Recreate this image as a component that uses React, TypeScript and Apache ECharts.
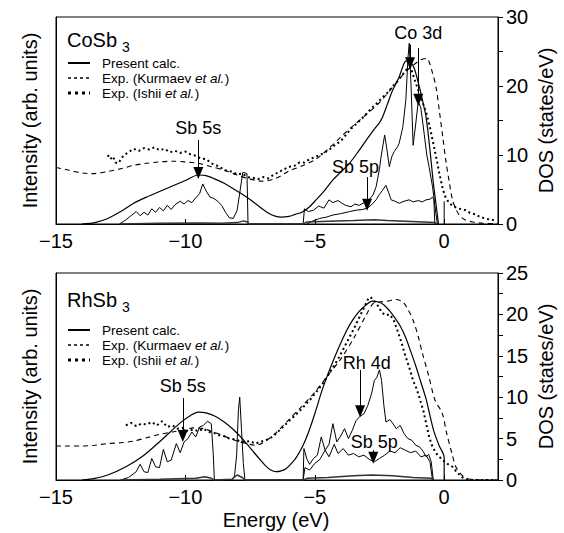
import React, { useEffect, useRef } from "react";
import * as echarts from "echarts";

const FONT = "'Liberation Sans', Arial, Helvetica, sans-serif";

// ---------- shared axes ----------
const energyTicks = [-15, -10, -5, 0];
const energyTitle = "Energy (eV)";

// ---------- CoSb3 (top panel) ----------
const coBroad = [[-14.0,0],[-13.5,0.2],[-13.0,0.8],[-12.5,1.8],[-12.0,3.0],[-11.5,3.9],[-11.0,4.7],[-10.5,5.5],[-10.0,6.3],[-9.5,7.1],[-9.2,7.0],[-8.85,6.5],[-8.5,5.9],[-8.15,5.1],[-7.8,4.3],[-7.45,3.4],[-7.1,2.4],[-6.8,1.6],[-6.5,1.1],[-6.3,1.0],[-6.0,1.1],[-5.75,1.4],[-5.5,1.7],[-5.2,2.5],[-5.0,3.3],[-4.7,4.5],[-4.3,6.4],[-4.0,7.5],[-3.66,8.8],[-3.3,10.6],[-3.0,12.2],[-2.75,13.5],[-2.5,14.7],[-2.38,15.5],[-2.2,17.3],[-2.0,19.3],[-1.74,21.3],[-1.6,22.8],[-1.48,23.6],[-1.3,23.4],[-1.16,22.6],[-0.96,19.9],[-0.83,17.8],[-0.7,15.5],[-0.6,12.5],[-0.51,9.3],[-0.42,6.0],[-0.32,3.0],[-0.22,0]];
const coTotal = [[-12.55,0],[-12.3,0.6],[-12.1,1.2],[-11.9,1.8],[-11.75,1.2],[-11.6,1.7],[-11.45,1.3],[-11.3,2.2],[-11.15,1.7],[-11.0,2.4],[-10.85,1.9],[-10.7,2.7],[-10.55,2.1],[-10.4,2.8],[-10.2,3.3],[-10.05,2.9],[-9.9,3.4],[-9.75,3.1],[-9.6,3.8],[-9.45,4.4],[-9.33,5.8],[-9.2,4.8],[-9.05,3.9],[-8.9,3.7],[-8.75,3.3],[-8.6,2.7],[-8.45,1.7],[-8.3,0.9],[-8.15,0.8],[-8.0,2.0],[-7.88,5.0],[-7.78,7.5],[-7.62,7.3],[-7.58,0],[-5.45,0],[-5.4,2.2],[-5.25,1.8],[-5.05,2.0],[-4.85,2.6],[-4.65,2.3],[-4.45,3.5],[-4.3,3.1],[-4.1,3.4],[-3.95,3.0],[-3.8,2.7],[-3.6,2.5],[-3.45,2.9],[-3.28,2.7],[-3.1,3.1],[-2.89,3.6],[-2.75,4.2],[-2.63,5.4],[-2.5,8.0],[-2.44,9.7],[-2.3,12.9],[-2.22,11.0],[-2.12,8.3],[-2.02,9.8],[-1.93,10.5],[-1.8,11.2],[-1.74,11.7],[-1.6,14.0],[-1.48,18.0],[-1.4,24.0],[-1.35,26.2],[-1.28,20.0],[-1.2,11.4],[-1.1,14.5],[-1.0,17.8],[-0.9,16.8],[-0.77,13.0],[-0.67,10.0],[-0.58,8.2],[-0.45,5.4],[-0.32,1.5],[-0.26,0]];
const coSb5p = [[-5.3,0],[-5.1,0.4],[-4.82,0.8],[-4.55,1.0],[-4.3,1.3],[-4.0,1.5],[-3.66,1.8],[-3.4,2.0],[-3.15,2.1],[-2.98,2.3],[-2.8,2.8],[-2.63,3.5],[-2.5,4.3],[-2.38,4.9],[-2.25,5.6],[-2.15,4.6],[-2.05,3.5],[-1.9,3.3],[-1.74,3.0],[-1.55,3.3],[-1.35,3.5],[-1.2,3.2],[-1.0,3.4],[-0.85,3.2],[-0.7,3.5],[-0.55,3.6],[-0.45,3.9],[-0.4,3.6],[-0.36,0]];
const coPartial = [[-12.5,0],[-11.0,0.1],[-9.5,0.15],[-8.6,0.1],[-8.0,0.2],[-7.75,0.45],[-7.6,0.3],[-7.55,0],[-5.45,0],[-5.3,0.3],[-4.5,0.4],[-3.5,0.5],[-2.7,0.6],[-2.2,0.5],[-1.5,0.4],[-0.8,0.3],[-0.35,0.2],[-0.3,0]];
const coFermi = [[0,0],[0,3.3]];
const coKurmaev = [[-15.0,8.2],[-14.5,7.8],[-14.0,7.4],[-13.6,7.3],[-13.0,7.6],[-12.5,8.0],[-12.0,8.5],[-11.5,8.8],[-11.0,9.0],[-10.5,9.1],[-10.0,9.0],[-9.5,8.8],[-9.0,8.3],[-8.5,7.8],[-8.0,7.1],[-7.5,6.5],[-7.0,6.2],[-6.6,6.5],[-6.3,7.0],[-6.0,7.7],[-5.5,8.4],[-5.0,9.3],[-4.5,10.8],[-4.0,12.6],[-3.5,14.3],[-3.0,15.9],[-2.5,17.6],[-2.0,19.8],[-1.5,22.0],[-1.2,23.0],[-0.9,23.8],[-0.68,24.0],[-0.45,21.9],[-0.3,19.5],[-0.19,16.5],[-0.05,12.5],[0.06,9.3],[0.2,6.0],[0.32,3.5],[0.45,2.2],[0.58,1.3],[0.8,0.6],[1.1,0.3],[1.5,0.1],[2.08,0.05]];
const coIshii = [[-13.0,10.0],[-12.9,9.4],[-12.8,9.8],[-12.7,8.9],[-12.6,8.8],[-12.5,9.3],[-12.4,9.9],[-12.2,10.4],[-12.0,10.9],[-11.8,10.6],[-11.6,11.0],[-11.4,10.8],[-11.2,11.1],[-11.0,10.7],[-10.8,10.9],[-10.6,10.4],[-10.4,10.6],[-10.2,10.3],[-10.0,10.5],[-9.8,10.1],[-9.6,9.9],[-9.4,9.5],[-9.2,9.4],[-9.0,8.8],[-8.8,8.5],[-8.6,8.1],[-8.4,7.7],[-8.2,7.6],[-8.0,7.2],[-7.8,7.3],[-7.6,6.8],[-7.4,6.7],[-7.2,6.5],[-7.0,6.8],[-6.8,6.6],[-6.6,7.1],[-6.4,7.5],[-6.2,7.9],[-6.0,8.3],[-5.8,8.4],[-5.6,8.9],[-5.4,8.9],[-5.2,9.4],[-5.0,9.7],[-4.8,10.0],[-4.6,10.4],[-4.4,10.9],[-4.2,11.5],[-4.0,12.0],[-3.8,12.9],[-3.6,13.8],[-3.4,14.5],[-3.2,15.2],[-3.0,16.0],[-2.8,16.8],[-2.6,17.5],[-2.4,18.3],[-2.2,19.0],[-2.0,19.9],[-1.8,20.7],[-1.6,21.7],[-1.45,22.4],[-1.3,22.8],[-1.15,21.0],[-1.0,19.4],[-0.85,17.8],[-0.7,16.2],[-0.55,14.0],[-0.45,12.2],[-0.3,9.5],[-0.19,7.4],[-0.05,5.0],[0.06,3.8],[0.2,3.0],[0.35,2.6],[0.45,2.4],[0.6,2.2],[0.83,2.0],[1.0,1.6],[1.2,1.4],[1.35,1.1],[1.5,0.9],[1.7,0.7],[1.86,0.6],[2.0,0.5]];
// arrows: [energy, from, to]
const coArrows = [[-9.5,12.2,7.4],[-2.98,6.8,2.8],[-1.32,26.0,23.3],[-1.0,25.5,18.0]];
const coLabels = [["Sb 5s",-9.5,13.9],["Sb 5p",-3.43,8.3],["Co 3d",-1.0,27.7]];

// ---------- RhSb3 (bottom panel) ----------
const rhBroad = [[-14.0,0],[-13.5,0.2],[-13.0,0.6],[-12.3,1.6],[-11.6,3.0],[-10.9,4.9],[-10.2,6.9],[-9.8,7.8],[-9.5,8.2],[-9.2,8.1],[-8.85,7.7],[-8.5,7.0],[-8.15,6.1],[-7.8,5.0],[-7.45,3.7],[-7.1,2.4],[-6.9,1.7],[-6.7,1.2],[-6.5,1.0],[-6.3,1.1],[-6.1,1.4],[-5.9,2.0],[-5.7,2.8],[-5.45,4.2],[-5.25,5.7],[-5.0,8.0],[-4.7,11.0],[-4.3,14.3],[-3.9,17.2],[-3.6,19.0],[-3.3,20.3],[-3.0,21.2],[-2.77,21.6],[-2.55,21.5],[-2.35,21.2],[-2.1,20.4],[-1.93,19.7],[-1.7,18.6],[-1.5,17.3],[-1.3,15.6],[-1.1,13.8],[-0.9,11.8],[-0.7,9.8],[-0.55,7.8],[-0.4,5.9],[-0.2,4.2],[0.0,2.7],[0.0,0]];
const rhTotal = [[-12.5,0],[-12.2,0.3],[-11.9,1.0],[-11.75,1.9],[-11.6,1.0],[-11.45,0.9],[-11.3,2.6],[-11.15,1.6],[-11.0,1.5],[-10.85,3.7],[-10.7,2.2],[-10.55,2.4],[-10.35,4.4],[-10.2,3.3],[-10.05,4.6],[-9.9,5.0],[-9.75,5.8],[-9.6,5.2],[-9.45,6.4],[-9.3,6.6],[-9.15,7.1],[-9.0,6.8],[-8.92,3.0],[-8.88,0],[-8.2,0],[-8.1,0.5],[-8.02,3.0],[-7.95,8.5],[-7.9,10.0],[-7.83,6.0],[-7.76,2.0],[-7.7,0],[-5.45,0],[-5.42,3.8],[-5.3,2.5],[-5.2,1.9],[-5.05,2.6],[-4.9,3.0],[-4.75,5.2],[-4.6,3.6],[-4.45,4.3],[-4.3,6.8],[-4.15,4.6],[-4.0,5.3],[-3.85,6.2],[-3.7,5.0],[-3.55,6.0],[-3.4,7.2],[-3.25,7.7],[-3.1,8.0],[-2.95,9.0],[-2.8,10.5],[-2.7,12.0],[-2.6,12.4],[-2.5,13.3],[-2.42,12.0],[-2.33,9.0],[-2.25,7.0],[-2.1,7.3],[-2.0,6.9],[-1.85,6.2],[-1.7,6.6],[-1.55,5.6],[-1.4,5.0],[-1.25,4.8],[-1.1,4.2],[-0.95,4.0],[-0.8,3.4],[-0.7,2.8],[-0.6,3.1],[-0.5,2.2],[-0.42,0]];
const rhSb5p = [[-5.45,0],[-5.38,1.5],[-5.2,1.2],[-5.0,2.0],[-4.8,2.5],[-4.6,3.6],[-4.45,2.8],[-4.25,4.3],[-4.1,3.2],[-3.9,3.8],[-3.7,3.0],[-3.5,3.2],[-3.3,2.8],[-3.1,3.0],[-2.9,2.5],[-2.7,2.2],[-2.5,2.6],[-2.3,3.0],[-2.1,3.5],[-1.9,3.3],[-1.7,3.9],[-1.5,3.6],[-1.3,3.3],[-1.1,3.5],[-0.9,2.8],[-0.7,3.0],[-0.55,2.2],[-0.45,0]];
const rhPartial = [[-12.5,0],[-11.0,0.1],[-9.6,0.2],[-9.25,0.4],[-9.0,0.2],[-8.88,0],[-8.2,0.1],[-8.0,0.6],[-7.8,0.3],[-7.7,0],[-5.45,0],[-5.3,0.2],[-4.5,0.3],[-3.5,0.5],[-2.8,0.6],[-2.0,0.5],[-1.2,0.3],[-0.5,0.2],[-0.42,0]];
const rhKurmaev = [[-15.0,4.1],[-14.5,4.1],[-14.0,4.1],[-13.5,4.2],[-13.0,4.4],[-12.5,4.5],[-12.0,4.7],[-11.5,5.1],[-11.0,5.5],[-10.5,5.8],[-10.0,6.1],[-9.7,6.3],[-9.3,6.2],[-9.0,5.9],[-8.5,5.3],[-8.0,4.7],[-7.5,4.3],[-7.3,4.2],[-7.0,4.5],[-6.5,5.7],[-6.0,7.3],[-5.5,8.9],[-5.0,10.6],[-4.5,12.6],[-4.0,14.6],[-3.5,17.1],[-3.0,20.0],[-2.75,21.3],[-2.5,21.5],[-2.2,21.6],[-1.86,21.8],[-1.6,21.5],[-1.4,20.6],[-1.2,19.3],[-1.0,17.3],[-0.84,15.3],[-0.6,12.6],[-0.35,9.6],[-0.08,8.1],[0.1,5.6],[0.3,3.2],[0.45,1.6],[0.65,0.7],[0.84,0.2],[1.1,0.05],[1.5,0],[2.08,0]];
const rhIshii = [[-12.3,6.6],[-12.1,6.9],[-11.9,6.5],[-11.7,6.8],[-11.5,6.7],[-11.3,7.0],[-11.1,6.6],[-10.9,7.1],[-10.7,6.4],[-10.5,6.6],[-10.3,6.2],[-10.1,6.3],[-9.9,5.9],[-9.7,6.1],[-9.5,5.9],[-9.3,6.2],[-9.1,5.8],[-8.9,5.7],[-8.7,5.4],[-8.5,5.3],[-8.3,5.0],[-8.1,4.9],[-7.9,4.7],[-7.7,4.6],[-7.5,4.7],[-7.3,4.4],[-7.1,4.6],[-6.9,4.8],[-6.7,5.1],[-6.5,5.6],[-6.3,6.2],[-6.1,6.8],[-5.9,7.4],[-5.7,8.0],[-5.5,8.6],[-5.3,9.3],[-5.1,10.0],[-4.9,10.8],[-4.7,11.6],[-4.5,12.6],[-4.3,13.6],[-4.1,14.6],[-3.9,15.8],[-3.7,17.0],[-3.5,18.2],[-3.3,19.5],[-3.1,20.8],[-2.95,21.8],[-2.85,22.1],[-2.7,21.6],[-2.55,21.0],[-2.4,20.2],[-2.25,19.9],[-2.1,20.0],[-1.95,19.3],[-1.8,18.0],[-1.65,16.6],[-1.5,15.0],[-1.35,13.6],[-1.2,12.0],[-1.09,11.2],[-0.96,10.0],[-0.8,8.3],[-0.7,6.9],[-0.58,5.2],[-0.45,4.0],[-0.3,3.2],[-0.19,2.8],[-0.05,2.4],[0.1,2.0],[0.32,1.6],[0.5,0.9],[0.71,0.3],[0.9,0.05],[1.2,0],[1.6,0],[2.0,0]];
const rhArrows = [[-10.1,9.9,5.3],[-3.25,13.3,8.3],[-2.74,3.6,2.7]];
const rhLabels = [["Sb 5s",-10.1,11.3],["Rh 4d",-2.99,14.1],["Sb 5p",-2.7,4.6]];

// legend entries: [plain part, italic part, closing part]
const legendParts = [
  ["Present calc.", "", ""],
  ["Exp. (Kurmaev", "et al.", ")"],
  ["Exp. (Ishii", "et al.", ")"],
];

function panelSeries(p: number, d: any) {
  const xi = p, yi = p * 2 + 1;
  const base = { type: "line", xAxisIndex: xi, yAxisIndex: yi, symbol: "none", silent: true, z: 3 };
  return [
    { ...base, name: "Present calc.", data: d.broad, smooth: 0.3, lineStyle: { color: "#000", width: 1.2 } },
    { ...base, name: d.totalName, data: d.total, lineStyle: { color: "#000", width: 1 } },
    { ...base, name: d.sbName, data: d.sb5p, lineStyle: { color: "#000", width: 1 } },
    { ...base, name: d.partName, data: d.partial, lineStyle: { color: "#333", width: 1.5 } },
    ...(d.fermi ? [{ ...base, name: d.fermiName, data: d.fermi, lineStyle: { color: "#000", width: 1 } }] : []),
    { ...base, name: "Exp. (Kurmaev et al.)", data: d.kurmaev, smooth: 0.3, lineStyle: { color: "#000", width: 1.1, type: [5, 4] } },
    { ...base, name: "Exp. (Ishii et al.)", data: d.ishii, lineStyle: { color: "#000", width: 2, type: [2, 3] } },
    {
      type: "scatter", xAxisIndex: xi, yAxisIndex: yi, silent: true, z: 5,
      name: d.annName,
      symbolSize: 0, itemStyle: { color: "#000" },
      data: d.labels.map((l: any) => ({ name: l[0], value: [l[1], l[2]] })),
      label: { show: true, position: "inside", formatter: "{b}", color: "#000", opacity: 1, textBorderWidth: 0, fontFamily: FONT, fontSize: 18 },
      markLine: {
        silent: true, symbol: ["none", "triangle"], symbolSize: [10, 12], animation: false,
        lineStyle: { color: "#000", width: 1, type: "solid" },
        itemStyle: { color: "#000" },
        label: { show: false },
        data: d.arrows.map((a: number[]) => [{ coord: [a[0], a[1]] }, { coord: [a[0], a[2]] }]),
      },
    },
  ];
}

// widths of Liberation Sans glyphs (Arial metrics, per 1 em)
const GLYPH: Record<string, number> = {
  E: 0.667, x: 0.5, p: 0.556, ".": 0.278, " ": 0.278, "(": 0.333, K: 0.667, u: 0.556, r: 0.333,
  m: 0.833, a: 0.556, e: 0.556, v: 0.5, I: 0.278, s: 0.5, h: 0.556, i: 0.222, t: 0.278, l: 0.222,
  ")": 0.333, P: 0.667, n: 0.556, c: 0.5,
};
const textWidth = (s: string, size: number) => s.split("").reduce((w, ch) => w + (GLYPH[ch] ?? 0.556), 0) * size;

function legendGraphics(y0: number) {
  const dashes = [null, [3, 3], [3, 4]];
  const widths = [2, 1.5, 3];
  const out: any[] = [];
  const fs = 13.5;
  for (let k = 0; k < 3; k++) {
    const y = y0 + k * 15;
    out.push({
      type: "line", silent: true,
      shape: { x1: 68, y1: y, x2: 90, y2: y },
      style: { stroke: "#000", lineWidth: widths[k], lineDash: dashes[k] || undefined },
    });
    const [a, b, c] = legendParts[k];
    let x = 102;
    out.push({ type: "text", silent: true, x, y, style: { text: a, font: `${fs}px ${FONT}`, fill: "#000", align: "left", verticalAlign: "middle" } });
    if (b) {
      x += textWidth(a + " ", fs);
      out.push({ type: "text", silent: true, x, y, style: { text: b, font: `italic ${fs}px ${FONT}`, fill: "#000", align: "left", verticalAlign: "middle" } });
      x += textWidth(b, fs) + 0.5;
      out.push({ type: "text", silent: true, x, y, style: { text: c, font: `${fs}px ${FONT}`, fill: "#000", align: "left", verticalAlign: "middle" } });
    }
  }
  return out;
}

export default function App() {
  const ref = useRef<HTMLDivElement>(null);
  useEffect(() => {
    if (!ref.current) return;
    const chart = echarts.init(ref.current, null, { renderer: "svg" });
    const xAxisCommon = (gi: number) => ({
      type: "value", gridIndex: gi, min: -15, max: 2.08, interval: 5,
      axisLine: { show: true, onZero: false, lineStyle: { color: "#000", width: 1 } },
      axisTick: { show: true, inside: true, length: 5, lineStyle: { color: "#000" } },
      splitLine: { show: false },
      axisLabel: {
        color: "#000", fontFamily: FONT, fontSize: 20, margin: 7,
        formatter: (v: number) => (energyTicks.includes(v) ? (v < 0 ? "\u2212" + Math.abs(v) : String(v)) : ""),
      },
    });
    const leftY = (gi: number, max: number) => ({
      type: "value", gridIndex: gi, position: "left", min: 0, max,
      axisLine: { show: true, onZero: false, lineStyle: { color: "#000", width: 1 } },
      axisTick: { show: false }, axisLabel: { show: false }, splitLine: { show: false },
      name: "Intensity (arb. units)", nameLocation: "middle", nameGap: 16, nameMoveOverlap: false,
      nameTextStyle: { color: "#000", fontFamily: FONT, fontSize: 20 },
    });
    const rightY = (gi: number, max: number, interval: number) => ({
      type: "value", gridIndex: gi, position: "right", min: 0, max, interval,
      axisLine: { show: true, onZero: false, lineStyle: { color: "#000", width: 1 } },
      axisTick: { show: true, length: 5, lineStyle: { color: "#000" } },
      minorTick: { show: true, splitNumber: 2, length: 5, lineStyle: { color: "#000" } },
      axisLabel: { color: "#000", fontFamily: FONT, fontSize: 20, margin: 8 },
      splitLine: { show: false },
      name: "DOS (states/eV)", nameLocation: "middle", nameGap: 38, nameRotate: 90, nameMoveOverlap: false,
      nameTextStyle: { color: "#000", fontFamily: FONT, fontSize: 20 },
    });
    const titleText = (t: string, top: number) => ([
      { type: "text", left: 67, top, style: { text: t, font: `20px ${FONT}`, fill: "#000" } },
      { type: "text", left: 122, top: top + 10, style: { text: "3", font: `14px ${FONT}`, fill: "#000" } },
    ]);
    chart.setOption({
      animation: false,
      backgroundColor: "#fff",
      grid: [
        { left: 56, right: 65, top: 17, height: 207, show: true, borderColor: "#000", borderWidth: 1 },
        { left: 56, right: 65, top: 273, height: 207, show: true, borderColor: "#000", borderWidth: 1 },
      ],
      xAxis: [xAxisCommon(0), xAxisCommon(1)],
      yAxis: [leftY(0, 30), rightY(0, 30, 10), leftY(1, 25), rightY(1, 25, 5)],
      graphic: [
        ...titleText("CoSb", 30), ...titleText("RhSb", 290),
        ...legendGraphics(63), ...legendGraphics(330),
        {
          type: "text", silent: true, x: 276, y: 520,
          style: { text: energyTitle, font: `20px ${FONT}`, fill: "#000", align: "center", verticalAlign: "middle" },
        },
      ],
      series: [
        ...panelSeries(0, {
          broad: coBroad, total: coTotal, sb5p: coSb5p, partial: coPartial, fermi: coFermi,
          kurmaev: coKurmaev, ishii: coIshii, arrows: coArrows, labels: coLabels,
          totalName: "CoSb3 total DOS", sbName: "CoSb3 Sb 5p", partName: "CoSb3 minor partial",
          fermiName: "CoSb3 EF", annName: "CoSb3 labels",
        }),
        ...panelSeries(1, {
          broad: rhBroad, total: rhTotal, sb5p: rhSb5p, partial: rhPartial, fermi: null,
          kurmaev: rhKurmaev, ishii: rhIshii, arrows: rhArrows, labels: rhLabels,
          totalName: "RhSb3 total DOS", sbName: "RhSb3 Sb 5p", partName: "RhSb3 minor partial",
          fermiName: "RhSb3 EF", annName: "RhSb3 labels",
        }),
      ],
    });
    return () => chart.dispose();
  }, []);
  return <div ref={ref} style={{ position: "absolute", left: 0, top: 0, width: 564, height: 533 }} />;
}
